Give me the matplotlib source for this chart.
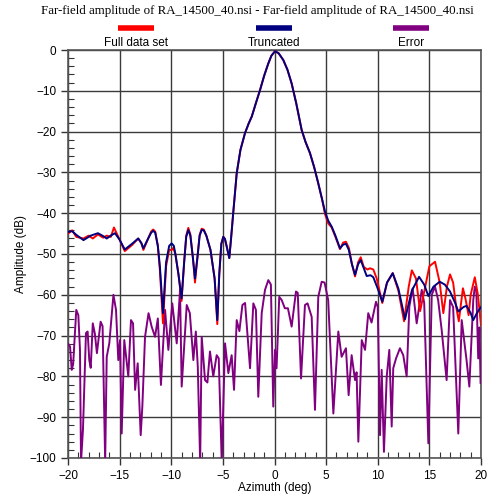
import matplotlib
matplotlib.use("Agg")
import matplotlib.pyplot as plt
from matplotlib.lines import Line2D
from matplotlib.ticker import MultipleLocator

title = "Far-field amplitude of RA_14500_40.nsi - Far-field amplitude of RA_14500_40.nsi"
series_names = ["Full data set", "Truncated", "Error"]
series_colors = ["#ff0000", "#000080", "#800080"]

trunc_az = [-20.0, -19.6, -19.2, -18.5, -17.8, -17.1, -16.6, -16.25, -15.8, -15.45, -15.0, -14.5,
            -13.8, -13.2, -12.9, -12.7, -12.2, -11.95, -11.75, -11.55, -11.3, -11.1, -10.8, -10.5,
            -10.2, -9.96, -9.75, -9.6, -9.3, -9.0, -8.75, -8.55, -8.35, -8.15, -7.9, -7.7, -7.45,
            -7.25, -7.05, -6.85, -6.6, -6.2, -5.8, -5.54, -5.35, -5.15, -4.96, -4.8, -4.6, -4.38,
            -4.2, -4.0, -3.66, -3.3, -2.86, -2.5, -2.2, -1.8, -1.4, -1.0, -0.6, -0.3, 0.05, 0.4,
            0.85, 1.25, 1.66, 2.1, 2.63, 3.0, 3.44, 3.85, 4.24, 4.6, 4.89, 5.2, 5.54, 5.9, 6.34,
            6.65, 6.92, 7.2, 7.5, 7.8, 8.1, 8.35, 8.65, 8.93, 9.3, 9.57, 10.0, 10.44, 10.9, 11.45,
            12.0, 12.64, 13.3, 14.0, 14.5, 14.9, 15.4, 16.0, 16.5, 17.0, 17.5, 17.8, 18.3, 18.6,
            19.0, 19.25, 19.6, 20.0]
trunc_db = [-44.6, -44.4, -45.3, -46.6, -45.5, -44.9, -45.6, -46.2, -45.4, -44.9, -46.5, -48.9,
            -47.5, -46.2, -47.3, -48.6, -46.0, -44.8, -44.3, -44.8, -48.0, -53.0, -64.5, -52.0,
            -48.0, -47.4, -48.0, -50.0, -55.0, -60.9, -52.0, -45.8, -44.1, -45.5, -51.0, -56.0,
            -50.5, -45.5, -44.1, -44.2, -45.5, -49.0, -56.0, -66.2, -55.0, -47.5, -45.8, -46.3,
            -48.5, -51.0, -46.0, -40.0, -30.2, -24.5, -20.4, -18.0, -16.3, -13.0, -9.8, -6.3,
            -3.3, -1.4, -0.3, -0.8, -2.45, -4.8, -8.2, -13.0, -19.6, -22.5, -25.3, -28.8, -32.7,
            -36.5, -39.6, -41.8, -43.3, -45.5, -48.6, -47.7, -47.5, -49.0, -52.5, -55.1, -52.5,
            -51.5, -53.5, -55.4, -55.2, -55.7, -58.5, -61.7, -57.0, -54.7, -58.5, -66.0, -59.0,
            -55.6, -57.5, -60.3, -58.0, -56.8, -57.5, -59.2, -62.0, -64.1, -63.0, -62.7, -64.5,
            -66.2, -64.5, -63.0]

full_az = [-20.0, -19.6, -19.2, -18.5, -18.0, -17.6, -17.1, -16.6, -16.25, -15.85, -15.55, -15.0,
           -14.5, -13.8, -13.2, -12.9, -12.7, -12.2, -11.95, -11.75, -11.55, -11.3, -11.1, -10.8,
           -10.5, -10.2, -9.96, -9.8, -9.6, -9.3, -9.0, -8.75, -8.55, -8.35, -8.15, -7.9, -7.7,
           -7.45, -7.25, -7.05, -6.85, -6.6, -6.2, -5.8, -5.54, -5.35, -5.15, -4.96, -4.8, -4.6,
           -4.38, -4.2, -4.0, -3.66, -3.3, -2.86, -2.5, -2.2, -1.8, -1.4, -1.0, -0.6, -0.3, 0.05,
           0.4, 0.85, 1.25, 1.66, 2.1, 2.63, 3.0, 3.44, 3.85, 4.24, 4.6, 4.89, 5.2, 5.54, 5.9,
           6.34, 6.65, 6.92, 7.2, 7.5, 7.8, 8.1, 8.35, 8.65, 9.0, 9.25, 9.57, 9.9, 10.44, 10.9,
           11.45, 12.0, 12.55, 13.0, 13.3, 13.7, 14.1, 14.6, 15.0, 15.55, 16.0, 16.35, 16.7,
           17.0, 17.3, 17.6, 17.85, 18.25, 18.5, 18.8, 19.0, 19.4, 19.7, 20.0]
full_db = [-45.0, -44.2, -45.8, -46.2, -45.5, -46.2, -45.2, -46.0, -45.5, -45.8, -43.5, -46.5,
           -49.3, -47.8, -46.2, -47.3, -49.0, -46.0, -44.5, -44.0, -44.5, -48.0, -54.0, -67.0,
           -53.0, -49.0, -49.0, -48.5, -50.0, -55.0, -61.5, -52.0, -45.5, -43.6, -45.2, -51.0,
           -57.0, -50.5, -45.3, -43.8, -44.0, -45.5, -49.0, -56.0, -67.2, -55.0, -47.5, -45.8,
           -46.3, -48.5, -51.0, -46.0, -40.0, -30.2, -24.5, -20.4, -18.0, -16.3, -13.0, -9.8,
           -6.3, -3.3, -1.4, -0.3, -0.8, -2.45, -4.8, -8.2, -13.0, -19.6, -22.5, -25.3, -28.8,
           -32.7, -36.5, -40.2, -42.5, -43.5, -45.8, -48.8, -47.2, -47.0, -48.5, -52.5, -55.5,
           -52.0, -50.8, -53.2, -53.8, -53.5, -53.8, -56.0, -62.0, -57.0, -54.7, -59.0, -66.5,
           -58.0, -54.0, -56.0, -64.0, -58.0, -53.0, -51.9, -57.0, -64.5, -58.0, -55.0, -57.0,
           -63.0, -66.5, -58.4, -61.0, -65.0, -60.0, -55.7, -60.0, -67.5]

error_az = [-20.0, -19.8, -19.64, -19.5, -19.2, -19.0, -18.84, -18.74, -18.55, -18.26, -18.1,
            -17.94, -17.8, -17.6, -17.4, -17.2, -16.84, -16.65, -16.4, -16.25, -16.0, -15.6,
            -15.35, -15.13, -14.96, -14.8, -14.55, -14.16, -13.9, -13.7, -13.5, -13.25, -12.96,
            -12.8, -12.54, -12.2, -11.9, -11.57, -11.3, -11.0, -10.6, -10.28, -9.9, -9.47, -9.15,
            -8.99, -8.5, -8.2, -7.86, -7.62, -7.43, -7.2, -7.05, -6.73, -6.5, -6.25, -5.93, -5.6,
            -5.4, -5.11, -4.79, -4.47, -4.15, -3.92, -3.66, -3.4, -3.11, -2.85, -2.37, -2.05,
            -1.8, -1.57, -1.24, -0.92, -0.6, -0.35, -0.12, 0.05, 0.2, 0.46, 0.7, 1.0, 1.3, 1.66,
            2.08, 2.25, 2.57, 2.95, 3.2, 3.6, 3.92, 4.24, 4.57, 4.85, 5.2, 5.7, 6.18, 6.5, 6.92,
            7.18, 7.47, 7.8, 7.95, 8.12, 8.45, 8.77, 9.08, 9.4, 9.83, 10.0, 10.22, 10.38, 10.6,
            10.87, 11.12, 11.35, 11.5, 11.77, 12.15, 12.47, 12.8, 13.06, 13.38, 13.77, 14.26,
            14.5, 14.9, 15.23, 15.55, 15.85, 16.19, 16.67, 17.0, 17.3, 17.8, 18.13, 18.6, 18.87,
            19.25, 19.4, 19.55, 19.73, 19.85, 19.96]
error_db = [-72.0, -72.7, -78.4, -77.0, -63.7, -65.0, -73.5, -101.0, -93.0, -69.4, -69.0,
            -76.0, -77.9, -67.0, -69.5, -74.3, -66.6, -67.7, -101.0, -75.2, -71.9, -60.0,
            -63.7, -76.0, -71.1, -94.0, -71.1, -80.0, -66.2, -67.0, -83.3, -76.8, -94.4,
            -87.4, -70.3, -64.5, -67.8, -70.3, -65.8, -82.1, -63.7, -73.5, -62.1, -71.9, -58.8,
            -82.5, -62.5, -64.5, -76.0, -69.0, -77.6, -101.0, -70.3, -80.9, -81.5, -73.9, -80.0,
            -74.8, -75.6, -101.0, -71.9, -79.2, -74.8, -83.3, -66.2, -68.9, -62.5, -62.0, -78.0,
            -62.1, -63.7, -85.0, -64.5, -58.8, -56.4, -57.5, -87.4, -73.5, -78.0, -60.5, -61.3,
            -63.3, -63.3, -67.8, -59.2, -59.5, -80.5, -62.5, -62.1, -65.4, -88.2, -60.5, -56.8,
            -57.0, -61.3, -89.1, -69.0, -75.2, -73.1, -84.6, -74.8, -80.9, -79.0, -96.0, -71.1,
            -73.5, -64.5, -66.8, -61.7, -63.0, -94.4, -78.4, -98.5, -80.0, -73.5, -92.3, -78.0,
            -75.6, -73.1, -74.8, -80.0, -62.9, -58.4, -67.0, -58.8, -62.0, -96.4, -60.0, -58.0,
            -61.3, -68.6, -80.9, -61.3, -63.0, -94.0, -66.2, -76.0, -82.5, -61.3, -58.0, -59.0,
            -75.6, -68.0, -81.6]

x_ticks = [-20, -15, -10, -5, 0, 5, 10, 15, 20]
y_ticks = [0, -10, -20, -30, -40, -50, -60, -70, -80, -90, -100]

plt.rcParams["font.family"] = ["Liberation Sans", "DejaVu Sans"]
fig = plt.figure(figsize=(4.9, 5.0), dpi=100)
ax = fig.add_axes([68 / 490, 1 - 458 / 500, (481 - 68) / 490, (458 - 50) / 500])

ax.plot(error_az, error_db, color=series_colors[2], lw=1.4, zorder=3)
ax.plot(full_az, full_db, color=series_colors[0], lw=1.4, zorder=4)
ax.plot(trunc_az, trunc_db, color=series_colors[1], lw=1.4, zorder=5)

ax.set_xlim(-20, 20)
ax.set_ylim(-100, 0)
ax.set_xticks(x_ticks)
ax.set_yticks(y_ticks)
ax.xaxis.set_minor_locator(MultipleLocator(1))
ax.yaxis.set_minor_locator(MultipleLocator(2))
ax.tick_params(which="major", direction="out", length=5, width=1, labelsize=8.5, color="#333333")
ax.tick_params(which="minor", direction="in", length=4, width=0.8, color="#333333")
ax.grid(True, which="major", color="#3a3a3a", lw=1.0, zorder=1)
for s in ax.spines.values():
    s.set_color("#555555")
    s.set_linewidth(1.2)

ax.set_xlabel("Azimuth (deg)", fontsize=8.5, labelpad=0)
ax.set_ylabel("Amplitude (dB)", fontsize=8.5, labelpad=2)

fig.text(257 / 490, 1 - 11 / 500, title, ha="center", va="center", fontsize=9.3,
         family=["Liberation Serif", "DejaVu Serif"])

leg_x = [136, 274, 411]
for name, col, cx in zip(series_names, series_colors, leg_x):
    fig.add_artist(Line2D([(cx - 18) / 490, (cx + 18) / 490], [1 - 28 / 500] * 2,
                          color=col, lw=4, solid_capstyle="butt", transform=fig.transFigure))
    fig.text(cx / 490, 1 - 43 / 500, name, ha="center", va="center", fontsize=8.5)

fig.savefig("out.png", dpi=100)
